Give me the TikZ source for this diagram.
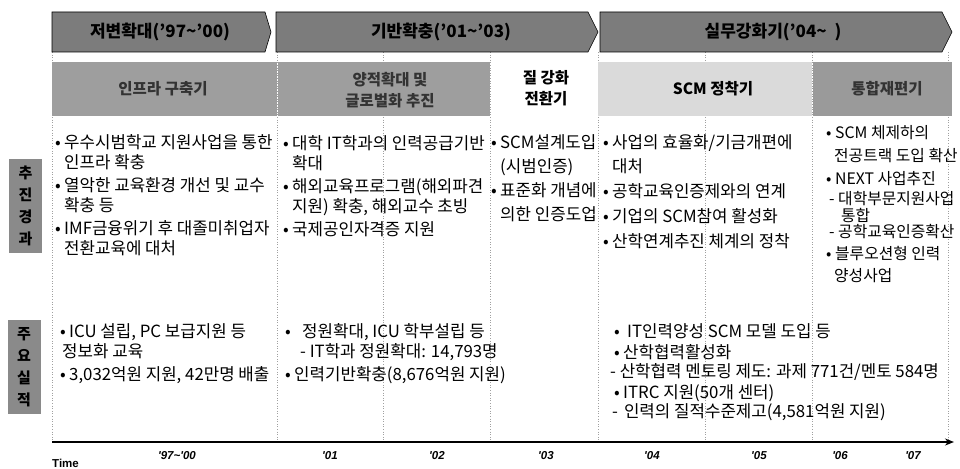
\documentclass[tikz,border=0pt]{standalone}
\usepackage{fontspec}
\setmainfont{Noto Sans CJK KR}
\newfontfamily\arialf{Liberation Sans}
\usetikzlibrary{arrows.meta}
\definecolor{hdrgray}{HTML}{7C7C7C}
\definecolor{midgray}{HTML}{9E9E9E}
\definecolor{ltgray}{HTML}{DADADA}
\definecolor{tgray}{HTML}{9A9A9A}
\definecolor{labgray}{HTML}{8A8A8A}
\definecolor{sepgray}{HTML}{A0A0A0}
\newcommand\bul{\makebox[9pt][l]{•}}
\newcommand\ind{\hspace*{9pt}}
\begin{document}
\begin{tikzpicture}[x=1pt,y=-1pt,
  hdr/.style={draw=black, line width=0.6pt, fill=hdrgray},
  hdrtext/.style={font=\bfseries\fontsize{17}{19}\selectfont, text=black, inner sep=0pt},
  phase/.style={inner sep=0pt, align=center, font=\bfseries\fontsize{15.5}{21}\selectfont},
  body/.style={anchor=north west, inner sep=0pt, align=left, font=\fontsize{16.8}{19.5}\selectfont},
  lab/.style={fill=labgray, text=black, minimum width=33pt, minimum height=94pt, inner sep=0pt, align=center, font=\bfseries\fontsize{15}{22}\selectfont},
  sep/.style={draw=sepgray, line width=0.6pt, dotted},
  year/.style={font=\arialf\bfseries\itshape\fontsize{11.5}{13}\selectfont, inner sep=0pt}]
\useasboundingbox (0,0) rectangle (960,468);
% separators
\foreach \x in {52,277,383,490,598,705,812,948}
  \draw[sep] (\x,52) -- (\x,440);
% header arrows
\draw[hdr] (52,12) -- (265,12) -- (271,32) -- (265,52) -- (52,52) -- cycle;
\draw[hdr] (276,12) -- (588,12) -- (598,32) -- (588,52) -- (276,52) -- cycle;
\draw[hdr] (600,12) -- (942,12) -- (952,32) -- (942,52) -- (600,52) -- cycle;
\node[hdrtext] (h1) at (160,32) {저변확대('97\char"7E'00)};
\node[hdrtext] (h2) at (441,32) {기반확충('01\char"7E'03)};
\node[hdrtext] (h3) at (773,32) {실무강화기('04\char"7E\ \ )};
% phase boxes
\fill[midgray] (52,62) rectangle (277,116);
\fill[midgray] (278,62) rectangle (490,116);
\fill[ltgray] (598,62) rectangle (812,116);
\fill[tgray] (813,62) rectangle (952,116);
\node[phase, text=black!80] (p1) at (163,89) {인프라 구축기};
\node[phase, text=black!80] (p2) at (390,90) {양적확대 및\\글로벌화 추진};
\node[phase] (p3) at (546,88) {질 강화\\전환기};
\node[phase] (p4) at (713,89) {SCM 정착기};
\node[phase, text=black!80] (p5) at (887,89) {통합재편기};
% left labels
\node[lab] (l1) at (25.5,206) {추\\진\\경\\과};
\node[lab] (l2) at (24,367) {주\\요\\실\\적};
% row 1
\node[body] (a1) at (55,134.5) {\bul 우수시범학교 지원사업을 통한\\ \ind 인프라 확충\\[4pt]
\bul 열악한 교육환경 개선 및 교수\\ \ind 확충 등\\[4pt]
\bul IMF금융위기 후 대졸미취업자\\ \ind 전환교육에 대처};
\node[body] (a2) at (283,135.5) {\bul 대학 IT학과의 인력공급기반\\ \ind 확대\\[4pt]
\bul 해외교육프로그램(해외파견\\ \ind 지원) 확충, 해외교수 초빙\\[4pt]
\bul 국제공인자격증 지원};
\node[body] (a3) at (491,134.5) {\bul SCM설계도입\\[4.5pt] \ind (시범인증)\\[4.5pt]
\bul 표준화 개념에\\[4.5pt] \ind 의한 인증도업};
\node[body] (a4) at (603,134.5) {\bul 사업의 효율화/기금개편에\\[4.5pt] \ind 대처\\[5.5pt]
\bul 공학교육인증제와의 연계\\[5.5pt]
\bul 기업의 SCM참여 활성화\\[5.5pt]
\bul 산학연계추진 체계의 정착};
\node[body, font=\fontsize{15.8}{19.5}\selectfont] (a5) at (826,125) {\bul SCM 체제하의\\[3.5pt] \hspace*{8pt}전공트랙 도입 확산\\[4pt]
\bul NEXT 사업추진\\ \hspace*{3pt}- 대학부문지원사업\\[-2.5pt] \hspace*{15pt}통합\\[-3.5pt] \hspace*{3pt}- 공학교육인증확산\\[3pt]
\bul 블루오션형 인력\\[2.5pt] \hspace*{8pt}양성사업};
% row 2
\node[body] (b1) at (60,323.5) {\bul ICU 설립, PC 보급지원 등\\ \hspace*{2pt}정보화 교육\\[4pt]
\bul 3,032억원 지원, 42만명 배출};
\node[body] (b2) at (285,323.5) {\bul\hspace{8pt}정원확대, ICU 학부설립 등\\ \hspace*{15pt}- IT학과 정원확대: 14,793명\\[4pt]
\bul 인력기반확충(8,676억원 지원)};
\node[body] (b4) at (614,323.5) {\bul\hspace{4pt}IT인력양성 SCM 모델 도입 등\\[1pt]
\bul 산학협력활성화\\ \hspace*{-4pt}- 산학협력 멘토링 제도: 과제 771건/멘토 584명\\[1pt]
\bul ITRC 지원(50개 센터)\\ \hspace*{-2pt}-\hspace{6pt}인력의 질적수준제고(4,581억원 지원)};
% timeline
\coordinate (t0) at (52,442);
\coordinate (t1) at (954,442);
\draw[line width=1.2pt, -{Stealth[length=9pt,width=7pt]}] (t0) -- (t1);
\node[year] (y0) at (177,456) {'97\char"7E'00};
\node[year] (y1) at (330,456) {'01};
\node[year] (y2) at (437,456) {'02};
\node[year] (y3) at (546,456) {'03};
\node[year] (y4) at (652,456) {'04};
\node[year] (y5) at (759,456) {'05};
\node[year] (y6) at (840,456) {'06};
\node[year] (y7) at (913,456) {'07};
\node[anchor=west, inner sep=0pt, font=\arialf\bfseries\fontsize{11.5}{13}\selectfont] (tm) at (52,463) {Time};
\end{tikzpicture}
\end{document}
